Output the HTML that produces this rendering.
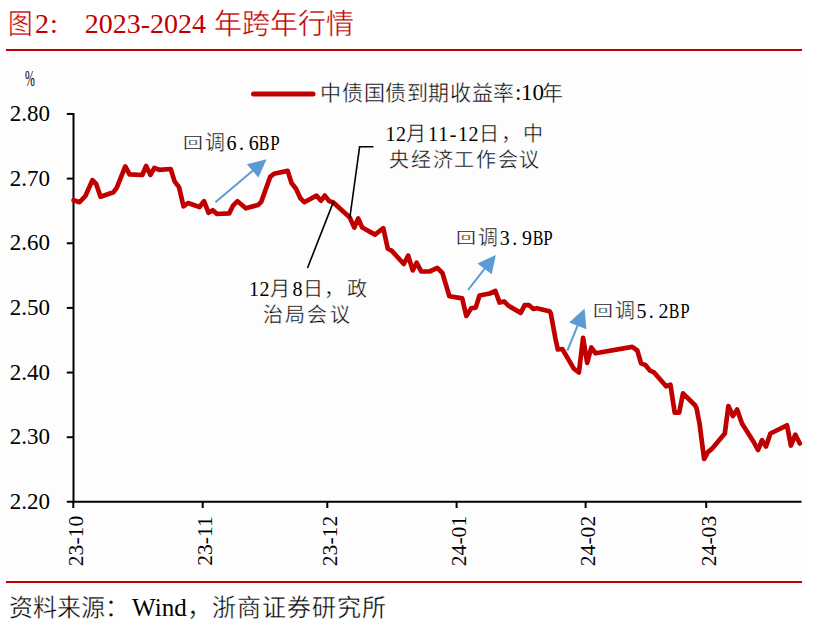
<!DOCTYPE html>
<html lang="zh-CN"><head><meta charset="utf-8"><style>
html,body{margin:0;padding:0;background:#fff;width:819px;height:625px;overflow:hidden;position:relative;font-family:"Liberation Serif",serif;}
.abs{position:absolute;white-space:nowrap;}
.g{position:absolute;white-space:nowrap;transform:translateX(-50%);color:#000;}
.c{-webkit-text-stroke:0.4px #fdfdfd;}
#bg{position:absolute;left:7px;top:52px;width:795px;height:528px;background:#fdfdfd;}
.rule{position:absolute;left:6px;width:796px;background:#c00000;}
.t{position:absolute;top:6px;font-size:28px;color:#c00000;white-space:nowrap;line-height:36px;}
.s{position:absolute;top:590px;font-size:24px;color:#000;white-space:nowrap;line-height:30px;}
.yl{position:absolute;left:0;width:50px;text-align:right;font-size:23px;line-height:24px;color:#000;}
.xl{position:absolute;top:540.7px;width:80px;height:24px;text-align:center;font-size:21.6px;line-height:24px;transform:translate(-50%,-50%) rotate(-90deg);}
svg{position:absolute;left:0;top:0;}
</style></head><body>
<div id="bg"></div>
<div class="g c" style="left:19.6px;top:10.8px;font-size:28px;line-height:28px;color:#c00000;transform:translateX(-50%) scaleX(0.88);">图</div><div class="g" style="left:42.1px;top:9.7px;font-size:28px;line-height:28px;color:#c00000;">2</div><div class="g" style="left:53.9px;top:9.7px;font-size:28px;line-height:28px;color:#c00000;">:</div><div class="g" style="left:145.3px;top:9.7px;font-size:28px;line-height:28px;color:#c00000;">2023-2024</div><div class="g c" style="left:227.8px;top:11.0px;font-size:28px;line-height:28px;color:#c00000;">年</div><div class="g c" style="left:255.9px;top:11.0px;font-size:28px;line-height:28px;color:#c00000;">跨</div><div class="g c" style="left:284.0px;top:11.0px;font-size:28px;line-height:28px;color:#c00000;">年</div><div class="g c" style="left:312.1px;top:11.0px;font-size:28px;line-height:28px;color:#c00000;">行</div><div class="g c" style="left:340.2px;top:11.0px;font-size:28px;line-height:28px;color:#c00000;">情</div>
<div class="rule" style="top:49px;height:2px"></div>
<div class="rule" style="top:581px;height:2px"></div>
<div class="abs" style="left:24.5px;top:64px;font-size:16px;line-height:20px;transform-origin:0 0;transform:scale(0.74,1.45)">%</div>
<div class="yl" style="top:102.0px">2.80</div><div class="yl" style="top:166.7px">2.70</div><div class="yl" style="top:231.3px">2.60</div><div class="yl" style="top:296.0px">2.50</div><div class="yl" style="top:360.7px">2.40</div><div class="yl" style="top:425.3px">2.30</div><div class="yl" style="top:490.0px">2.20</div>
<div class="xl" style="left:75.8px">23-10</div><div class="xl" style="left:205.2px">23-11</div><div class="xl" style="left:329.8px">23-12</div><div class="xl" style="left:459.1px">24-01</div><div class="xl" style="left:588.1px">24-02</div><div class="xl" style="left:708.7px">24-03</div>
<svg width="819" height="625" viewBox="0 0 819 625">
<g stroke="#000" stroke-width="2" fill="none">
<line x1="73.5" y1="113" x2="73.5" y2="502.7"/>
<line x1="66.8" y1="501.85" x2="801.5" y2="501.85"/>
<line x1="66.8" y1="113.95" x2="73.5" y2="113.95"/><line x1="66.8" y1="178.60" x2="73.5" y2="178.60"/><line x1="66.8" y1="243.25" x2="73.5" y2="243.25"/><line x1="66.8" y1="307.90" x2="73.5" y2="307.90"/><line x1="66.8" y1="372.55" x2="73.5" y2="372.55"/><line x1="66.8" y1="437.20" x2="73.5" y2="437.20"/>
<line x1="73.3" y1="501.7" x2="73.3" y2="508"/><line x1="202.7" y1="501.7" x2="202.7" y2="508"/><line x1="327.3" y1="501.7" x2="327.3" y2="508"/><line x1="456.6" y1="501.7" x2="456.6" y2="508"/><line x1="585.6" y1="501.7" x2="585.6" y2="508"/><line x1="706.2" y1="501.7" x2="706.2" y2="508"/>
</g>
<line x1="253.5" y1="93.9" x2="313" y2="93.9" stroke="#c00000" stroke-width="5" stroke-linecap="round"/>
<path d="M73.6,200.2 L79.6,202.2 L85.4,196 L92.4,180.1 L96.2,184 L100.5,196.7 L113.5,192.2 L116.7,187.8 L125.3,166.4 L129.5,174.3 L142.3,175 L146.1,166 L150.5,175 L154.3,168 L159.2,169.8 L170.7,169 L174.6,181.4 L179,187.1 L183.5,206.3 L188,203.1 L199.5,207 L204,201.2 L208.5,212.7 L212.8,210.2 L217,214 L229.2,213.4 L233,205.7 L237.5,201.2 L245.8,208.3 L258,205 L261.2,201.9 L270.2,176.9 L274,173.7 L287.7,170.9 L291.5,183 L296,188.8 L300.5,198.4 L304.3,202.2 L316.5,195.6 L321,200.7 L324.8,195.6 L329.3,201.2 L333.1,202.2 L349.8,217.6 L354.3,227.6 L358.2,218.4 L362.2,227.5 L375,234.6 L383.3,228.2 L387.8,248.7 L391.6,250.6 L403.8,264 L408.2,255.7 L412.7,270.4 L416.6,262.7 L421.2,271.4 L429.6,271.5 L437.3,267.9 L442.4,273 L449.4,296.3 L462.2,298.4 L466.3,315.9 L471.2,308.3 L475.7,307.6 L479.5,295.5 L489.8,293.5 L495.4,291 L499.6,302.6 L504.1,301.4 L508.6,305.8 L520.7,312.9 L524.6,305.2 L529,305.2 L533.5,309 L536.7,308.2 L549.5,311.2 L550.8,313.5 L555.3,337.9 L557.8,349.5 L562.3,349 L573.8,368.6 L578.9,372.5 L583.1,337.9 L587.2,362.9 L591.3,347.5 L595.6,353.3 L632.2,346.9 L637.3,350.5 L641.1,363.3 L645.6,365.2 L650.1,370.7 L653.9,372.3 L666.1,386.3 L670.4,384.6 L674.7,412.6 L679.2,412.6 L683,393.4 L695,405.2 L696.5,408 L699.6,423.9 L704.1,459 L707.9,452.1 L711.8,448.9 L724.8,433.6 L728.4,406 L732.9,416 L737.1,409.5 L742,423.5 L753.7,442 L758,450 L762,440.2 L766,446.5 L770.4,433.5 L787,425.3 L790.9,445.5 L795.3,434.6 L799.8,443.5" fill="none" stroke="#c00000" stroke-width="4.7" stroke-linejoin="round" stroke-linecap="round"/>
<g stroke="#000" stroke-width="1.6" fill="none">
<polyline points="373.5,146.8 359.6,146.8 349.8,218"/>
<line x1="333.5" y1="201.6" x2="307.5" y2="268"/>
</g>
<g stroke="#5b9bd5" stroke-width="2" fill="#5b9bd5">
<line x1="215.4" y1="202.2" x2="253" y2="170.5"/>
<polygon points="266.6,159.2 246.9,164.3 258.4,177.5" stroke="none"/>
<line x1="468" y1="290" x2="484.5" y2="268.8"/>
<polygon points="495.8,254.9 477.4,263.4 491.7,274.3" stroke="none"/>
<line x1="567.4" y1="350.7" x2="577.6" y2="325.6"/>
<polygon points="584.6,308.6 569.2,322.4 586.4,329.2" stroke="none"/>
</g>
</svg>
<div class="g c" style="left:330.7px;top:83.0px;font-size:21px;line-height:21px;;">中</div><div class="g c" style="left:352.3px;top:83.0px;font-size:21px;line-height:21px;;">债</div><div class="g c" style="left:374.0px;top:83.0px;font-size:21px;line-height:21px;;">国</div><div class="g c" style="left:395.6px;top:83.0px;font-size:21px;line-height:21px;;">债</div><div class="g c" style="left:417.3px;top:83.0px;font-size:21px;line-height:21px;;">到</div><div class="g c" style="left:438.9px;top:83.0px;font-size:21px;line-height:21px;;">期</div><div class="g c" style="left:460.6px;top:83.0px;font-size:21px;line-height:21px;;">收</div><div class="g c" style="left:482.2px;top:83.0px;font-size:21px;line-height:21px;;">益</div><div class="g c" style="left:503.9px;top:83.0px;font-size:21px;line-height:21px;;">率</div><div class="g" style="left:518.2px;top:81.0px;font-size:23px;line-height:23px;;">:</div><div class="g" style="left:532.4px;top:81.0px;font-size:23px;line-height:23px;;">10</div><div class="g c" style="left:552.6px;top:83.0px;font-size:21px;line-height:21px;;">年</div>
<div class="g c" style="left:193.2px;top:132.5px;font-size:20px;line-height:20px;;transform:translateX(-50%) scaleY(0.74);">回</div><div class="g c" style="left:215.2px;top:132.5px;font-size:20px;line-height:20px;;">调</div><div class="g" style="left:231.6px;top:132.5px;font-size:20px;line-height:20px;;">6</div><div class="g" style="left:241.5px;top:132.5px;font-size:20px;line-height:20px;;">.</div><div class="g" style="left:253.8px;top:132.5px;font-size:20px;line-height:20px;;">6</div><div class="g" style="left:264.3px;top:132.5px;font-size:20px;line-height:20px;;transform:translateX(-50%) scaleX(0.8);">B</div><div class="g" style="left:274.9px;top:132.5px;font-size:20px;line-height:20px;;transform:translateX(-50%) scaleX(0.85);">P</div><div class="g c" style="left:466.4px;top:227.5px;font-size:20px;line-height:20px;;transform:translateX(-50%) scaleY(0.74);">回</div><div class="g c" style="left:488.4px;top:227.5px;font-size:20px;line-height:20px;;">调</div><div class="g" style="left:504.8px;top:227.5px;font-size:20px;line-height:20px;;">3</div><div class="g" style="left:514.7px;top:227.5px;font-size:20px;line-height:20px;;">.</div><div class="g" style="left:527.0px;top:227.5px;font-size:20px;line-height:20px;;">9</div><div class="g" style="left:537.5px;top:227.5px;font-size:20px;line-height:20px;;transform:translateX(-50%) scaleX(0.8);">B</div><div class="g" style="left:548.1px;top:227.5px;font-size:20px;line-height:20px;;transform:translateX(-50%) scaleX(0.85);">P</div><div class="g c" style="left:603.0px;top:300.8px;font-size:20px;line-height:20px;;transform:translateX(-50%) scaleY(0.74);">回</div><div class="g c" style="left:625.0px;top:300.8px;font-size:20px;line-height:20px;;">调</div><div class="g" style="left:641.4px;top:300.8px;font-size:20px;line-height:20px;;">5</div><div class="g" style="left:651.3px;top:300.8px;font-size:20px;line-height:20px;;">.</div><div class="g" style="left:663.6px;top:300.8px;font-size:20px;line-height:20px;;">2</div><div class="g" style="left:674.1px;top:300.8px;font-size:20px;line-height:20px;;transform:translateX(-50%) scaleX(0.8);">B</div><div class="g" style="left:684.7px;top:300.8px;font-size:20px;line-height:20px;;transform:translateX(-50%) scaleX(0.85);">P</div><div class="g" style="left:390.6px;top:124.0px;font-size:20px;line-height:20px;;">1</div><div class="g" style="left:400.9px;top:124.0px;font-size:20px;line-height:20px;;">2</div><div class="g c" style="left:416.0px;top:124.0px;font-size:20px;line-height:20px;;">月</div><div class="g" style="left:433.0px;top:124.0px;font-size:20px;line-height:20px;;">1</div><div class="g" style="left:443.3px;top:124.0px;font-size:20px;line-height:20px;;">1</div><div class="g" style="left:453.1px;top:124.0px;font-size:20px;line-height:20px;;">-</div><div class="g" style="left:463.0px;top:124.0px;font-size:20px;line-height:20px;;">1</div><div class="g" style="left:473.4px;top:124.0px;font-size:20px;line-height:20px;;">2</div><div class="g c" style="left:489.4px;top:124.0px;font-size:20px;line-height:20px;;">日</div><div class="g c" style="left:510.5px;top:124.0px;font-size:20px;line-height:20px;;">，</div><div class="g c" style="left:532.7px;top:124.0px;font-size:20px;line-height:20px;;">中</div><div class="g c" style="left:399.2px;top:150.0px;font-size:20px;line-height:20px;;">央</div><div class="g c" style="left:420.9px;top:150.0px;font-size:20px;line-height:20px;;">经</div><div class="g c" style="left:442.6px;top:150.0px;font-size:20px;line-height:20px;;">济</div><div class="g c" style="left:464.3px;top:150.0px;font-size:20px;line-height:20px;;">工</div><div class="g c" style="left:486.0px;top:150.0px;font-size:20px;line-height:20px;;">作</div><div class="g c" style="left:507.7px;top:150.0px;font-size:20px;line-height:20px;;">会</div><div class="g c" style="left:529.4px;top:150.0px;font-size:20px;line-height:20px;;">议</div><div class="g" style="left:254.1px;top:278.5px;font-size:20px;line-height:20px;;">1</div><div class="g" style="left:264.5px;top:278.5px;font-size:20px;line-height:20px;;">2</div><div class="g c" style="left:279.5px;top:278.5px;font-size:20px;line-height:20px;;">月</div><div class="g" style="left:297.4px;top:278.5px;font-size:20px;line-height:20px;;">8</div><div class="g c" style="left:312.9px;top:278.5px;font-size:20px;line-height:20px;;">日</div><div class="g c" style="left:333.5px;top:278.5px;font-size:20px;line-height:20px;;">，</div><div class="g c" style="left:356.5px;top:278.5px;font-size:20px;line-height:20px;;">政</div><div class="g c" style="left:273.2px;top:305.0px;font-size:20px;line-height:20px;;">治</div><div class="g c" style="left:295.3px;top:305.0px;font-size:20px;line-height:20px;;">局</div><div class="g c" style="left:317.4px;top:305.0px;font-size:20px;line-height:20px;;">会</div><div class="g c" style="left:339.5px;top:305.0px;font-size:20px;line-height:20px;;">议</div>
<div class="g c" style="left:20.6px;top:596.0px;font-size:24px;line-height:24px;;">资</div><div class="g c" style="left:44.6px;top:596.0px;font-size:24px;line-height:24px;;">料</div><div class="g c" style="left:68.6px;top:596.0px;font-size:24px;line-height:24px;;">来</div><div class="g c" style="left:92.6px;top:596.0px;font-size:24px;line-height:24px;;">源</div><div class="g c" style="left:116.6px;top:596.0px;font-size:24px;line-height:24px;;">：</div><div class="g c" style="left:198.5px;top:596.0px;font-size:24px;line-height:24px;;">，</div><div class="g" style="left:159.4px;top:594.5px;font-size:25px;line-height:25px;;">Wind</div><div class="g c" style="left:224.2px;top:596.0px;font-size:24px;line-height:24px;;">浙</div><div class="g c" style="left:249.2px;top:596.0px;font-size:24px;line-height:24px;;">商</div><div class="g c" style="left:274.3px;top:596.0px;font-size:24px;line-height:24px;;">证</div><div class="g c" style="left:299.3px;top:596.0px;font-size:24px;line-height:24px;;">券</div><div class="g c" style="left:324.3px;top:596.0px;font-size:24px;line-height:24px;;">研</div><div class="g c" style="left:349.4px;top:596.0px;font-size:24px;line-height:24px;;">究</div><div class="g c" style="left:374.4px;top:596.0px;font-size:24px;line-height:24px;;">所</div>
</body></html>
